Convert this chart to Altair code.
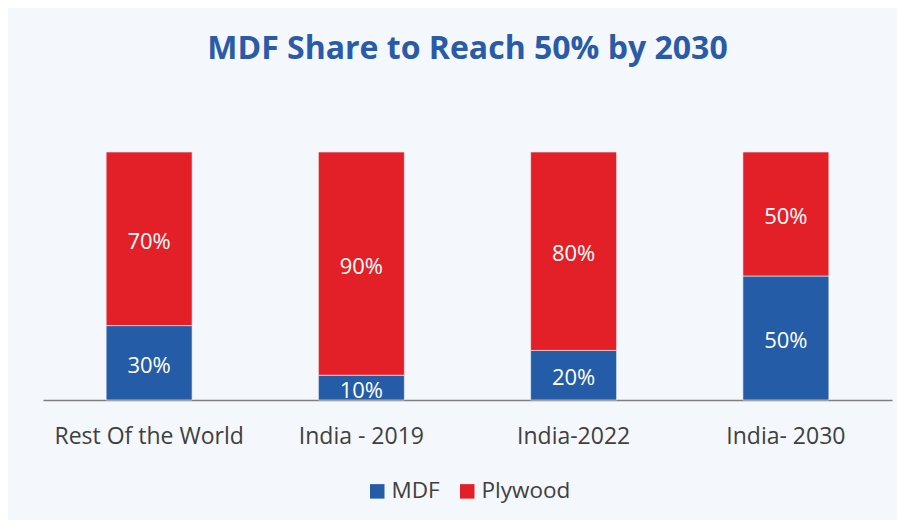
import altair as alt
import pandas as pd

categories = ["Rest Of the World", "India - 2019", "India-2022", "India- 2030"]
mdf = [30, 10, 20, 50]
plywood = [70, 90, 80, 50]
series = ["MDF", "Plywood"]
colors = ["#255CA7", "#E32028"]

rows = []
for c, m, p in zip(categories, mdf, plywood):
    rows.append({"category": c, "type": series[0], "value": m})
    rows.append({"category": c, "type": series[1], "value": p})
df = pd.DataFrame(rows)

FONT = "Open Sans"
TXT = "#404040"

base = alt.Chart(df).transform_stack(
    stack="value", as_=["y0", "y1"], groupby=["category"],
    sort=[alt.SortField("type", order="ascending")]
).transform_calculate(
    mid="(datum.y0 + datum.y1) / 2",
    label="datum.value + '%'"
)

x_enc = alt.X(
    "category:N", sort=categories, title=None,
    scale=alt.Scale(paddingInner=0.595, paddingOuter=0.2975),
    axis=alt.Axis(labelAngle=0, labelFontSize=23, labelFont=FONT, labelColor=TXT,
                  labelLimit=400, ticks=False, labelPadding=25, domainColor="#7f7f7f",
                  domainWidth=1.5, grid=False),
)
y_scale = alt.Scale(domain=[0, 100])

bars = base.mark_bar(stroke="#f3f7fc", strokeWidth=0.6).encode(
    x=x_enc,
    y=alt.Y("y0:Q", scale=y_scale, axis=None),
    y2="y1:Q",
    color=alt.Color(
        "type:N", scale=alt.Scale(domain=series, range=colors),
        legend=alt.Legend(orient="none", legendX=323, legendY=328,
                          direction="horizontal", title=None,
                          symbolType="square", symbolSize=210, symbolStrokeWidth=0,
                          labelFontSize=22.5, labelFont=FONT, labelColor=TXT,
                          labelOffset=3, columnPadding=16),
    ),
)

labels = base.mark_text(color="white", fontSize=22, font=FONT, baseline="middle", dy=3).encode(
    x=alt.X("category:N", sort=categories),
    y=alt.Y("mid:Q", scale=y_scale),
    text="label:N",
)

chart = alt.layer(bars, labels).properties(
    width=849, height=248,
    autosize=alt.AutoSizeParams(type="none"),
    padding={"left": 35, "top": 144, "right": 5, "bottom": 120},
    background="#F4F7FC",
    title=alt.TitleParams(
        "MDF Share to Reach 50% by 2030", font=FONT, fontSize=32, fontWeight="bold",
        color="#2A5BA8", anchor="middle", baseline="alphabetic", offset=61,
    ),
).configure_view(stroke=None)

chart.save("out.html", embed_options={"renderer": "svg", "actions": False})
